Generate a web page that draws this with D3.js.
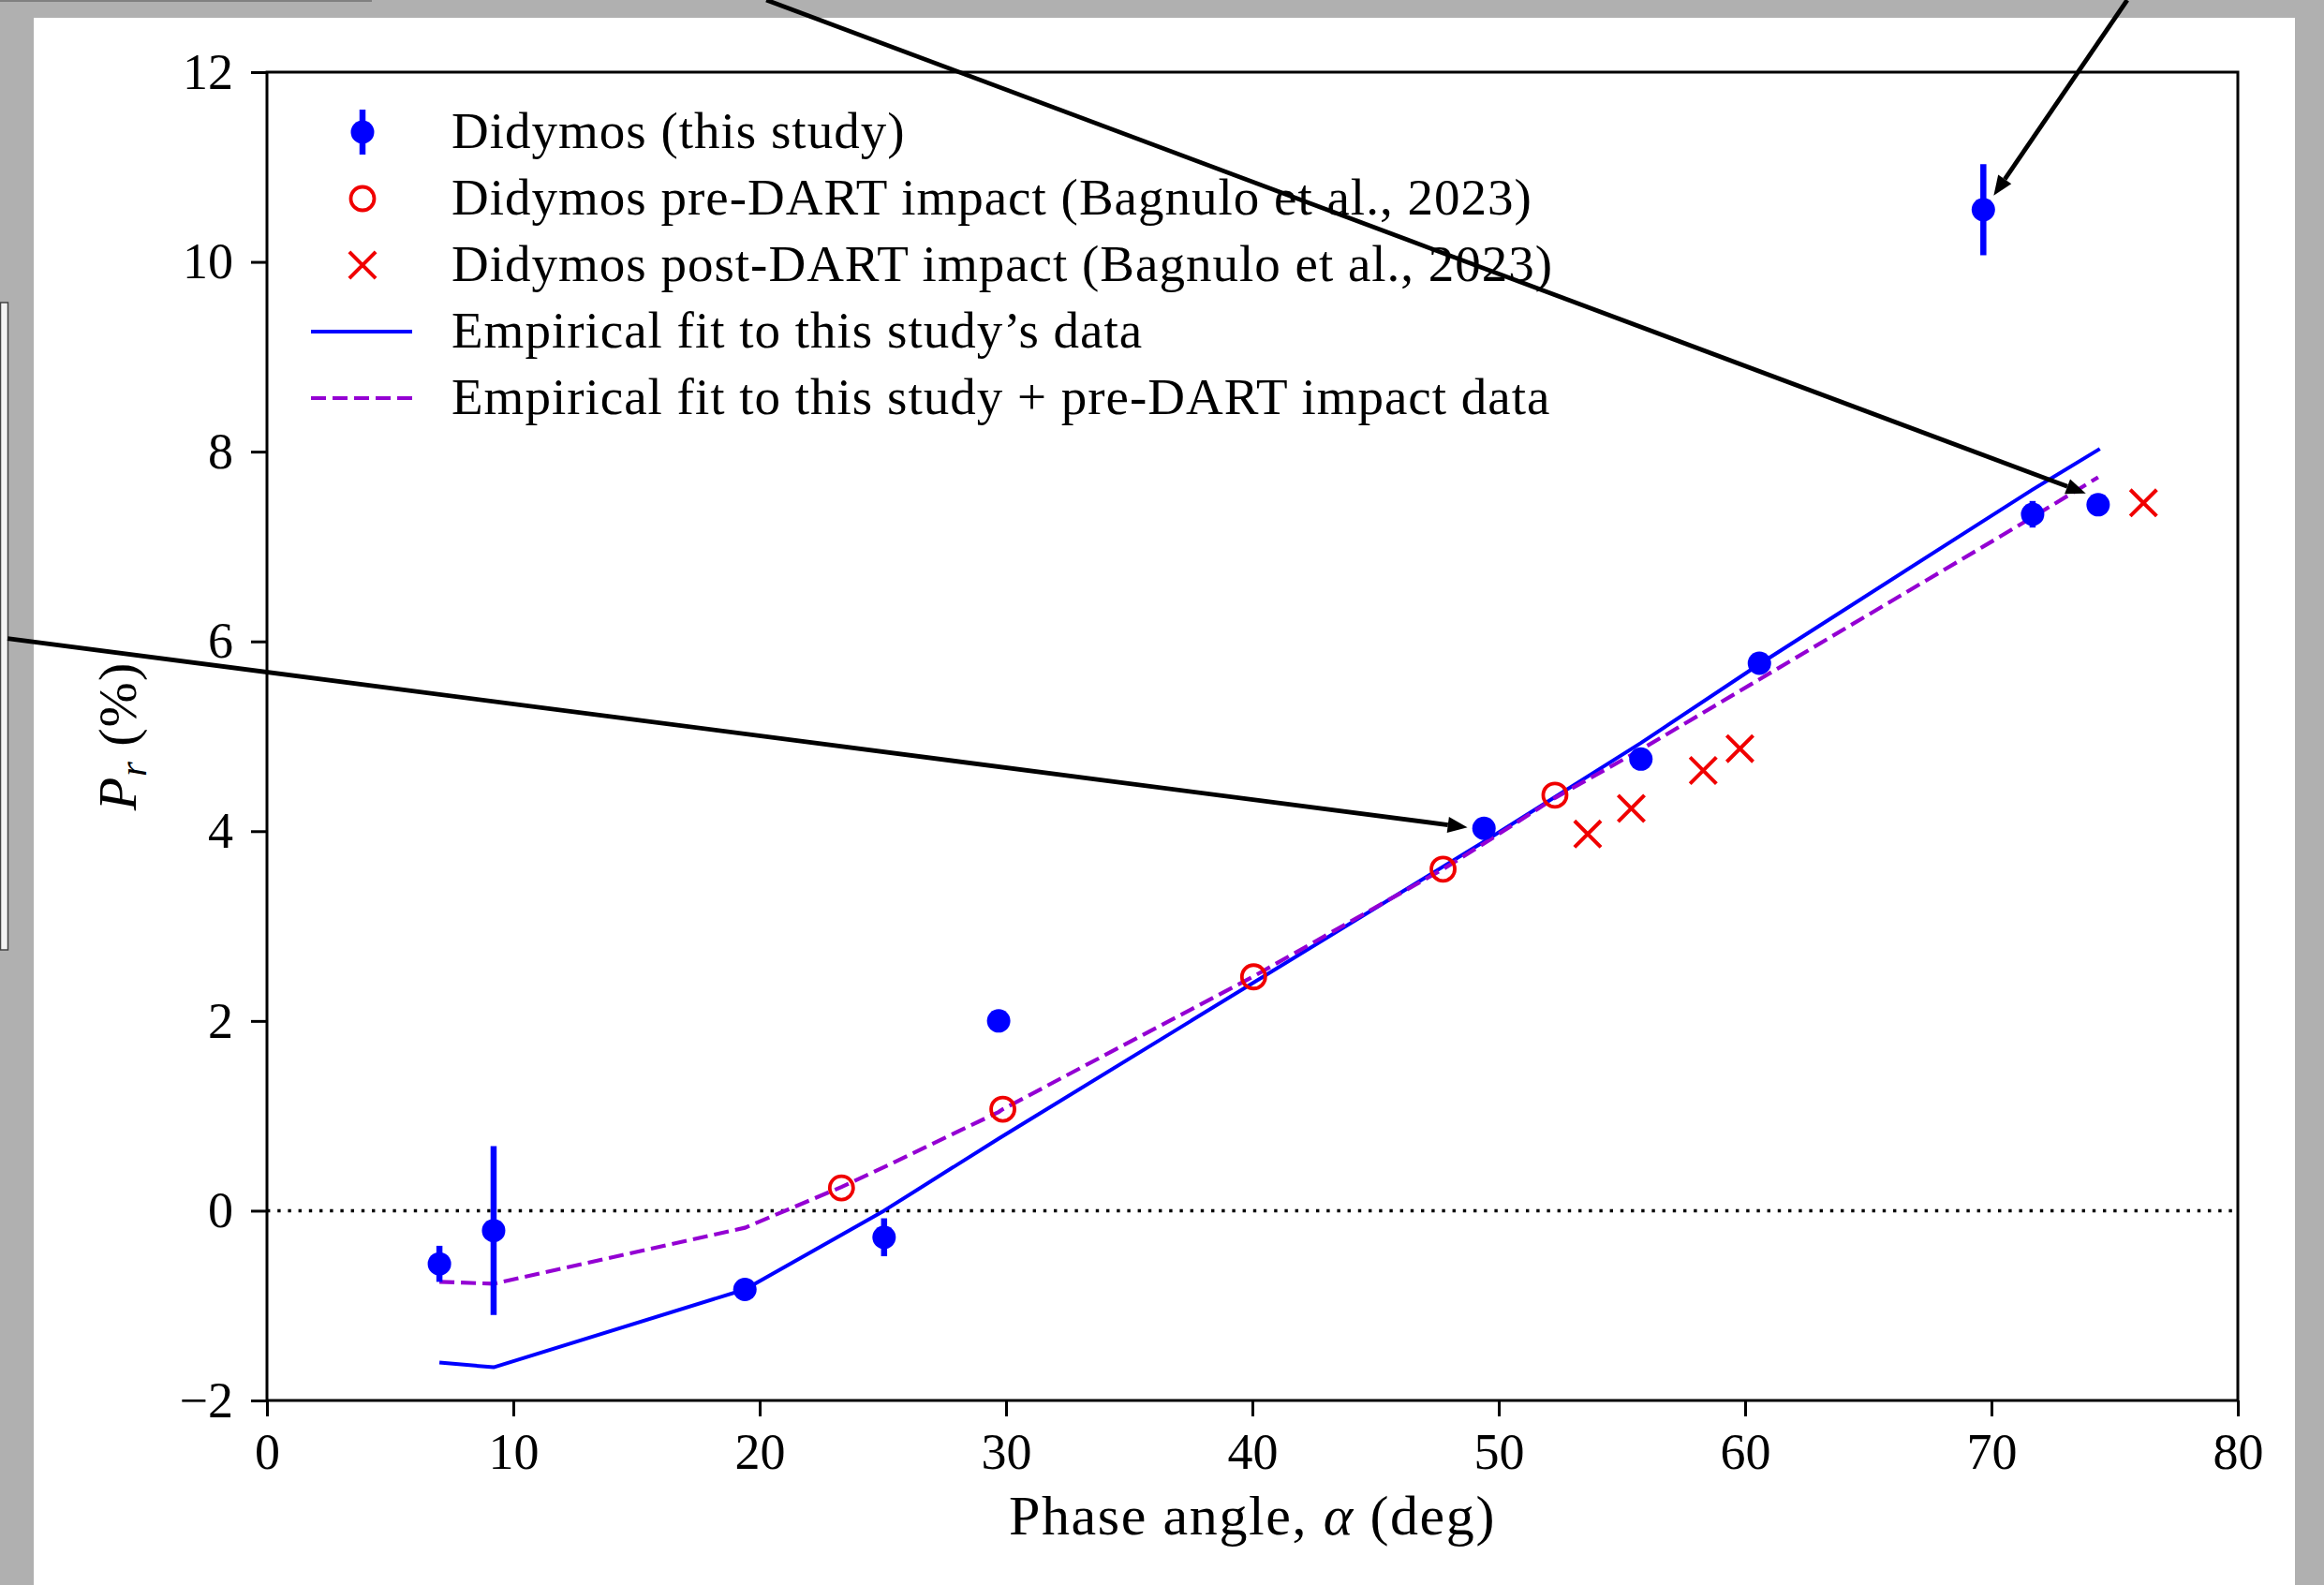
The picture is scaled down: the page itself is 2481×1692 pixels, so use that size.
<!DOCTYPE html>
<html>
<head>
<meta charset="utf-8">
<script src="https://cdn.jsdelivr.net/npm/d3@7"></script>
<style>
  body { margin: 0; background: #b0b0b0; }
  svg { display: block; }
  text { font-family: "Liberation Serif", "DejaVu Serif", serif; fill: #000; }
</style>
</head>
<body>
<svg id="chart"></svg>
<script>
// --- DATA ---
// Didymos (this study)
const alphaStudy = [7.0, 9.2, 19.4, 25.05, 29.7, 49.4, 55.77, 60.58, 69.67, 71.67, 74.33];
const polStudy   = [-0.56, -0.21, -0.83, -0.28, 2.0, 4.03, 4.76, 5.77, 10.55, 7.34, 7.44];
const errStudy   = [0.19, 0.89, 0.05, 0.2, 0.05, 0.05, 0.05, 0.05, 0.48, 0.14, 0.05];

// Didymos pre-DART impact (Bagnulo et al., 2023)
const alphaPre = [23.32, 29.87, 40.05, 47.74, 52.28];
const polPre   = [0.24, 1.07, 2.465, 3.60, 4.38];

// Didymos post-DART impact (Bagnulo et al., 2023)
const alphaPost = [53.61, 55.38, 58.3, 59.79, 76.17];
const polPost   = [3.97, 4.24, 4.64, 4.87, 7.46];

// empirical fit, this study
const alphaFit1 = [7.0, 9.2, 19.4, 25.05, 29.7, 49.4, 55.77, 60.58, 69.67, 71.67, 74.4];
const polFit1   = [-1.60, -1.65, -0.83, 0.0, 0.76, 3.89, 4.93, 5.76, 7.27, 7.60, 8.03];

// empirical fit, this study + pre-DART
const alphaFit2 = [7.0, 9.2, 19.4, 23.32, 25.05, 29.7, 29.87, 40.05, 47.74, 49.4, 52.28, 55.77, 60.58, 69.67, 71.67, 74.33];
const polFit2   = [-0.75, -0.77, -0.18, 0.25, 0.46, 1.04, 1.07, 2.47, 3.60, 3.87, 4.35, 4.86, 5.60, 7.0, 7.31, 7.73];

const xTicks = [0, 10, 20, 30, 40, 50, 60, 70, 80];
const yTicks = [-2, 0, 2, 4, 6, 8, 10, 12];

const legendLabels = [
  "Didymos (this study)",
  "Didymos pre-DART impact (Bagnulo et al., 2023)",
  "Didymos post-DART impact (Bagnulo et al., 2023)",
  "Empirical fit to this study\u2019s data",
  "Empirical fit to this study + pre-DART impact data"
];

// annotation arrows, [alpha, P] tail -> head
const arrowFrom = [[20.27, 12.76], [75.51, 12.76], [-10.53, 6.03]];
const arrowTo   = [[73.83, 7.56], [70.09, 10.70], [48.73, 4.04]];

// --- SETUP ---
const W = 2481, H = 1692;
const BLUE = "#0000ff", RED = "#f00000", PURPLE = "#9400d3";
const svg = d3.select("#chart").attr("width", W).attr("height", H);

// page background pieces
svg.append("rect").attr("x", 0).attr("y", 0).attr("width", W).attr("height", H).attr("fill", "#b0b0b0");
svg.append("rect").attr("x", 0).attr("y", 0).attr("width", 397).attr("height", 2).attr("fill", "#808080");
svg.append("rect").attr("x", 0.5).attr("y", 323).attr("width", 8).attr("height", 691)
  .attr("fill", "#f4f4f4").attr("stroke", "#444").attr("stroke-width", 1.5);
svg.append("rect").attr("x", 36).attr("y", 19).attr("width", 2414).attr("height", H - 19).attr("fill", "#fff");

const pLeft = 285, pRight = 2389, pTop = 77, pBottom = 1495;
const x = d3.scaleLinear().domain([0, 80]).range([pLeft, pRight]);
const y = d3.scaleLinear().domain([-2, 12]).range([pBottom, pTop]);

// zero line
svg.append("line")
  .attr("x1", pLeft).attr("x2", pRight).attr("y1", y(0)).attr("y2", y(0))
  .attr("stroke", "#000").attr("stroke-width", 3.4).attr("stroke-dasharray", "3.4,7.8");

// --- FIT LINES ---
const line = d3.line().x(d => x(d[0])).y(d => y(d[1]));
svg.append("path")
  .datum(d3.zip(alphaFit1, polFit1))
  .attr("d", line).attr("fill", "none")
  .attr("stroke", BLUE).attr("stroke-width", 4).attr("stroke-linejoin", "round");
svg.append("path")
  .datum(d3.zip(alphaFit2, polFit2))
  .attr("d", line).attr("fill", "none")
  .attr("stroke", PURPLE).attr("stroke-width", 4.2).attr("stroke-dasharray", "16,7");

// --- POINTS ---
const study = d3.zip(alphaStudy, polStudy, errStudy);
svg.append("g").selectAll("line").data(study).enter().append("line")
  .attr("x1", d => x(d[0])).attr("x2", d => x(d[0]))
  .attr("y1", d => y(d[1] - d[2])).attr("y2", d => y(d[1] + d[2]))
  .attr("stroke", BLUE).attr("stroke-width", 6.5);
svg.append("g").selectAll("circle").data(study).enter().append("circle")
  .attr("cx", d => x(d[0])).attr("cy", d => y(d[1])).attr("r", 12.5)
  .attr("fill", BLUE);

svg.append("g").selectAll("circle").data(d3.zip(alphaPre, polPre)).enter().append("circle")
  .attr("cx", d => x(d[0])).attr("cy", d => y(d[1])).attr("r", 12.5)
  .attr("fill", "none").attr("stroke", RED).attr("stroke-width", 3.8);

const cross = d3.symbol().type(d3.symbolX).size(520);
svg.append("g").selectAll("path").data(d3.zip(alphaPost, polPost)).enter().append("path")
  .attr("transform", d => `translate(${x(d[0])},${y(d[1])})`)
  .attr("d", cross).attr("fill", "none").attr("stroke", RED).attr("stroke-width", 4);

// --- AXES ---
const xAxis = svg.append("g").attr("transform", `translate(0,${pBottom})`)
  .call(d3.axisBottom(x).tickValues(xTicks).tickSize(17).tickSizeOuter(0).tickPadding(18));
const yAxis = svg.append("g").attr("transform", `translate(${pLeft},0)`)
  .call(d3.axisLeft(y).tickValues(yTicks).tickSize(17).tickSizeOuter(0).tickPadding(19)
    .tickFormat(d => d < 0 ? "\u2212" + Math.abs(d) : d));
[xAxis, yAxis].forEach(a => {
  a.select(".domain").remove();
  a.selectAll(".tick line").attr("stroke", "#000").attr("stroke-width", 3);
  a.selectAll(".tick text").attr("font-family", "Liberation Serif").attr("font-size", 54).attr("fill", "#000");
});

svg.append("rect")
  .attr("x", pLeft).attr("y", pTop).attr("width", pRight - pLeft).attr("height", pBottom - pTop)
  .attr("fill", "none").attr("stroke", "#000").attr("stroke-width", 3);

// axis titles
const xt = svg.append("text")
  .attr("x", (pLeft + pRight) / 2).attr("y", 1638)
  .attr("text-anchor", "middle").attr("font-size", 60).attr("letter-spacing", 1.6);
xt.append("tspan").text("Phase angle, ");
xt.append("tspan").attr("font-style", "italic").text("\u03b1");
xt.append("tspan").text(" (deg)");

const yt = svg.append("text")
  .attr("transform", `translate(145,${(pTop + pBottom) / 2}) rotate(-90)`)
  .attr("text-anchor", "middle").attr("font-size", 58).attr("letter-spacing", 1);
yt.append("tspan").attr("font-style", "italic").text("P");
yt.append("tspan").attr("font-style", "italic").attr("font-size", 40).attr("dy", 11).text("r");
yt.append("tspan").attr("dy", -11).text(" (%)");

// --- LEGEND ---
const lgX = 387, lgText = 482, lgY0 = 141, lgStep = 71;
const lg = svg.append("g");
legendLabels.forEach((t, i) => {
  lg.append("text").attr("x", lgText).attr("y", lgY0 + i * lgStep + 17)
    .attr("font-size", 55).attr("letter-spacing", 1.0).text(t);
});
lg.append("line").attr("x1", lgX).attr("x2", lgX).attr("y1", lgY0 - 24).attr("y2", lgY0 + 24)
  .attr("stroke", BLUE).attr("stroke-width", 6.5);
lg.append("circle").attr("cx", lgX).attr("cy", lgY0).attr("r", 12.5).attr("fill", BLUE);
lg.append("circle").attr("cx", lgX).attr("cy", lgY0 + lgStep).attr("r", 12.5)
  .attr("fill", "none").attr("stroke", RED).attr("stroke-width", 3.8);
lg.append("path").attr("transform", `translate(${lgX},${lgY0 + 2 * lgStep})`)
  .attr("d", cross).attr("fill", "none").attr("stroke", RED).attr("stroke-width", 4);
lg.append("line").attr("x1", 332).attr("x2", 440).attr("y1", lgY0 + 3 * lgStep).attr("y2", lgY0 + 3 * lgStep)
  .attr("stroke", BLUE).attr("stroke-width", 4);
lg.append("line").attr("x1", 332).attr("x2", 440).attr("y1", lgY0 + 4 * lgStep).attr("y2", lgY0 + 4 * lgStep)
  .attr("stroke", PURPLE).attr("stroke-width", 4.2).attr("stroke-dasharray", "16,7");

// --- ARROWS ---
const arrows = svg.append("g");
arrowFrom.forEach((f, i) => {
  const x0 = x(f[0]), y0 = y(f[1]);
  const x1 = x(arrowTo[i][0]), y1 = y(arrowTo[i][1]);
  const ang = Math.atan2(y1 - y0, x1 - x0);
  const len = 21, hw = 8.5;
  const bx = x1 - len * Math.cos(ang), by = y1 - len * Math.sin(ang);
  arrows.append("line")
    .attr("x1", x0).attr("y1", y0).attr("x2", bx).attr("y2", by)
    .attr("stroke", "#000").attr("stroke-width", 4.8);
  const px = -Math.sin(ang) * hw, py = Math.cos(ang) * hw;
  arrows.append("path")
    .attr("d", `M${x1},${y1}L${bx + px},${by + py}L${bx - px},${by - py}Z`)
    .attr("fill", "#000");
});
</script>
</body>
</html>
